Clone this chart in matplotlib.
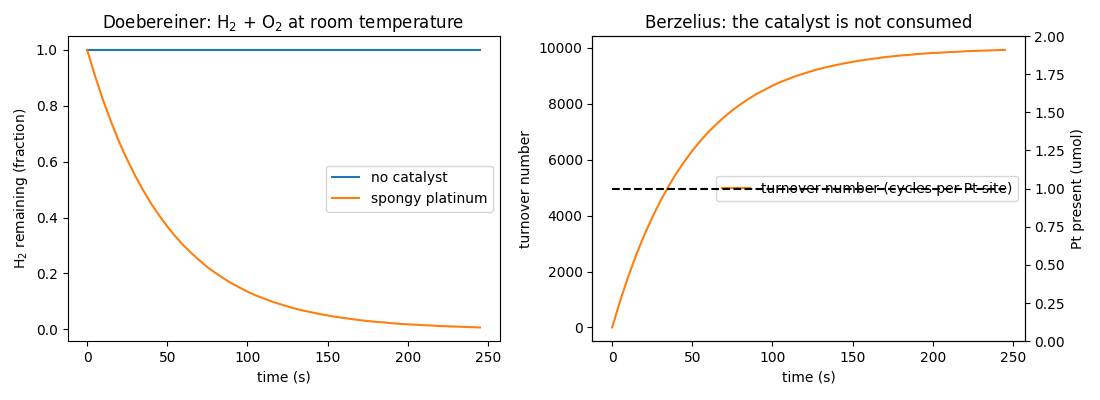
import matplotlib
matplotlib.use("Agg")
import matplotlib.pyplot as plt

time_s = list(range(0, 250, 5))
h2_no_catalyst = [1.0] * len(time_s)
h2_platinum = [1.000, 0.905, 0.819, 0.741, 0.670, 0.607, 0.549, 0.497, 0.449, 0.407,
               0.368, 0.333, 0.301, 0.273, 0.247, 0.223, 0.202, 0.183, 0.165, 0.150,
               0.135, 0.122, 0.111, 0.100, 0.091, 0.082, 0.074, 0.067, 0.061, 0.055,
               0.050, 0.045, 0.041, 0.037, 0.033, 0.030, 0.027, 0.025, 0.022, 0.020,
               0.018, 0.017, 0.015, 0.014, 0.012, 0.011, 0.010, 0.009, 0.008, 0.007]
turnover = [0, 950, 1810, 2590, 3300, 3930, 4510, 5030, 5510, 5930,
            6320, 6670, 6990, 7270, 7530, 7770, 7980, 8170, 8350, 8500,
            8650, 8780, 8890, 9000, 9090, 9180, 9260, 9330, 9390, 9450,
            9500, 9550, 9590, 9630, 9670, 9700, 9730, 9750, 9780, 9800,
            9820, 9830, 9850, 9860, 9880, 9890, 9900, 9910, 9920, 9930]
pt_present = [1.0] * len(time_s)

fig, (ax1, ax2) = plt.subplots(1, 2, figsize=(11, 4), dpi=100)

ax1.plot(time_s, h2_no_catalyst, color="#1f77b4", label="no catalyst")
ax1.plot(time_s, h2_platinum, color="#ff7f0e", label="spongy platinum")
ax1.set_title("Doebereiner: H$_2$ + O$_2$ at room temperature")
ax1.set_xlabel("time (s)")
ax1.set_ylabel("H$_2$ remaining (fraction)")
ax1.legend(loc="center right")

ax2.plot(time_s, turnover, color="#ff7f0e", label="turnover number (cycles per Pt site)")
ax2.set_title("Berzelius: the catalyst is not consumed")
ax2.set_xlabel("time (s)")
ax2.set_ylabel("turnover number")
ax2.legend(loc="center right")
ax3 = ax2.twinx()
ax3.plot(time_s, pt_present, color="black", linestyle="--")
ax3.set_ylim(0, 2)
ax3.set_ylabel("Pt present (umol)")

fig.subplots_adjust(left=0.0614, right=0.9314, bottom=0.1467, top=0.91, wspace=0.215)
fig.savefig("out.png")
